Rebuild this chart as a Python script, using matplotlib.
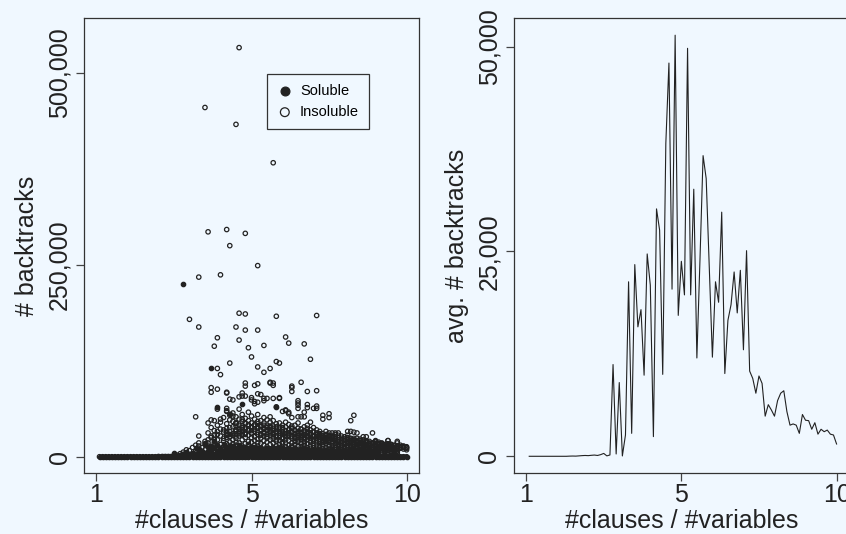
import numpy as np
import matplotlib
matplotlib.use("Agg")
import matplotlib.pyplot as plt
from matplotlib.ticker import FuncFormatter

plt.rcParams['font.family'] = ['Liberation Sans', 'DejaVu Sans']

BG = '#f0f8ff'
INK = '#222222'

# ratio #clauses / #variables, 100 steps of 0.09
ratio_idx = np.arange(1, 101)
ratio = 1 + 0.09 * ratio_idx

# avg backtracks per ratio (thousands)
avg_k = [0, 0, 0, 0, 0, 0, 0, 0, 0, 0,
         0, 0, 0, 0.02, 0.03, 0.02, 0.05, 0.08, 0.1, 0.08,
         0.12, 0.15, 0.1, 0.2, 0.35, 0.05, 0.16, 11.2, 0.28, 9.0,
         0.04, 2.6, 21.3, 2.8, 23.4, 15.8, 17.9, 9.9, 24.7, 20.9,
         2.4, 30.2, 27.6, 10.0, 38.2, 48.0, 20.4, 51.4, 17.2, 23.8,
         19.7, 49.8, 19.7, 32.6, 12.0, 24.0, 36.7, 33.9, 23.0, 12.1,
         21.3, 18.8, 29.8, 10.1, 16.6, 18.5, 22.5, 17.5, 22.7, 13.0,
         25.1, 10.4, 9.5, 7.7, 9.8, 8.9, 4.9, 6.3, 5.65, 4.9,
         6.8, 7.7, 8.0, 5.45, 3.8, 3.95, 3.8, 2.8, 5.1, 4.4,
         4.35, 3.3, 4.1, 2.7, 3.3, 3.0, 3.2, 2.7, 2.6, 1.5]

# scattered runs that stand out (index, thousands of backtracks)
ins_outliers = [
    (46, 533), (35, 455), (45, 433), (57, 383), (36, 293), (42, 296), (48, 291), (43, 275), (52, 249),
    (33, 234), (40, 237), (30, 179), (33, 169), (46, 187), (48, 186), (58, 183), (71, 184), (45, 169),
    (48, 165), (52, 165), (39, 155), (38, 144), (46, 152), (49, 142), (54, 145), (61, 156), (62, 148),
    (67, 147), (69, 127), (50, 130), (43, 122), (52, 117), (54, 110), (56, 115), (58, 124), (59, 122),
    (39, 115), (40, 107), (37, 90), (37, 84), (39, 88), (42, 84), (43, 75), (44, 74), (48, 96), (48, 92),
    (51, 93), (52, 95), (56, 97), (57, 96), (63, 92), (63, 85), (66, 97), (68, 85), (71, 86), (47, 83),
    (46, 78), (53, 81), (55, 76), (57, 76), (59, 76), (39, 62), (42, 63), (42, 60), (44, 53), (32, 52),
    (37, 48), (40, 49), (47, 49), (45, 44), (48, 79), (50, 74), (51, 69), (52, 71), (54, 73), (58, 65),
    (60, 59), (61, 61), (62, 56), (65, 70), (65, 63), (68, 64), (71, 63), (73, 49), (75, 51), (82, 47),
    (83, 54), (89, 31), (94, 21), (97, 18), (87, 26), (90, 21), (76, 31), (77, 31), (78, 31), (81, 33),
    (82, 33), (83, 32), (84, 31), (86, 26), (33, 27), (33, 18), (35, 20), (36, 18), (42, 59), (42, 83),
    (43, 54), (47, 79), (50, 77), (51, 72), (52, 82), (54, 76), (56, 96), (57, 93), (59, 77), (63, 90),
    (61, 60), (62, 58), (63, 51), (42, 33), (42, 28), (45, 43), (45, 35), (45, 30), (47, 38), (47, 33),
    (47, 28), (38, 23), (65, 73), (65, 67), (68, 68), (70, 63), (71, 66), (67, 58), (65, 52), (66, 52),
    (67, 52), (73, 54), (75, 56), (69, 45), (68, 41), (81, 24), (90, 20), (94, 21), (97, 20),
]
sol_outliers = [(28, 225), (37, 115), (47, 69), (39, 65), (43, 56), (43, 30), (58, 65), (38, 20)]

# dense low cloud, insoluble runs, one list per index 26..100 (thousands)
ins_cloud = [
    [2], [4, 1], [3, 6], [5, 2, 9], [8, 3], [4, 12], [7, 15, 3], [10, 5, 14], [6, 12, 3], [9, 4, 17],
    [14, 6, 22, 3], [12, 25, 8, 4], [18, 7, 11, 28], [9, 22, 15, 4, 33], [16, 6, 27, 11, 2],
    [21, 9, 35, 13, 5], [25, 12, 7, 31, 17, 3], [19, 8, 38, 14, 26, 4], [28, 11, 17, 6, 22, 2],
    [33, 15, 24, 9, 40, 5, 19], [27, 12, 36, 7, 18, 30, 3], [22, 41, 14, 8, 29, 35, 4],
    [31, 17, 9, 44, 25, 12, 38, 5], [20, 36, 13, 28, 7, 42, 16], [34, 10, 25, 19, 39, 6, 30, 2],
    [26, 40, 15, 8, 33, 21, 12], [37, 18, 29, 9, 43, 23, 4, 14], [24, 35, 11, 30, 17, 39, 6],
    [32, 21, 8, 27, 41, 15, 36, 3], [19, 38, 13, 29, 7, 24, 34, 10], [28, 16, 35, 22, 9, 31, 5, 40],
    [23, 37, 12, 30, 18, 6, 26], [33, 20, 10, 27, 39, 14, 4, 22], [21, 31, 8, 36, 16, 25, 12],
    [29, 17, 38, 11, 24, 6, 33, 19], [26, 34, 13, 22, 9, 30, 3, 18], [35, 15, 28, 10, 21, 31, 7],
    [24, 12, 32, 18, 27, 5, 14, 37], [30, 20, 9, 26, 16, 34, 11], [22, 33, 14, 28, 7, 19, 25, 4],
    [27, 17, 31, 10, 23, 13, 36], [20, 29, 8, 25, 15, 32, 5, 18], [26, 12, 22, 30, 9, 17, 3],
    [31, 19, 24, 11, 28, 14, 6, 21], [23, 15, 27, 8, 20, 33, 12], [18, 29, 10, 24, 14, 5, 21, 26],
    [25, 13, 20, 30, 9, 17, 4], [22, 16, 27, 11, 19, 7, 24, 14], [28, 12, 21, 17, 8, 25, 3],
    [19, 24, 10, 15, 27, 6, 13, 21], [23, 14, 18, 9, 26, 11, 4], [17, 21, 12, 24, 7, 15, 19],
    [20, 13, 25, 9, 16, 5, 22, 11], [15, 22, 11, 18, 7, 14, 3], [19, 12, 16, 23, 8, 13, 10],
    [14, 20, 9, 17, 6, 12, 22, 4], [18, 11, 15, 8, 21, 13], [13, 19, 10, 16, 6, 24, 9, 3],
    [16, 12, 20, 8, 14, 11, 5], [12, 17, 9, 15, 19, 7, 13], [15, 10, 18, 8, 13, 4, 11],
    [11, 16, 9, 14, 7, 20, 12], [14, 10, 17, 8, 12, 5, 9], [12, 15, 7, 11, 18, 9, 3],
    [10, 14, 8, 13, 6, 16, 11], [13, 9, 12, 7, 15, 10, 4], [11, 14, 8, 10, 6, 13, 17],
    [9, 12, 7, 15, 10, 5, 8], [12, 8, 11, 6, 14, 9, 3], [10, 13, 7, 9, 5, 11, 16],
    [8, 11, 6, 12, 9, 4, 7], [11, 7, 10, 5, 13, 8],
]
# upper part of the cloud, insoluble runs, one list per index 36..100 (thousands)
ins_cloud_hi = [
    [31, 44], [38, 27], [34, 47], [29, 41], [45, 36], [32, 51, 24], [43, 29, 37], [48, 33, 26],
    [39, 57, 30, 46], [52, 35, 44, 27], [41, 62, 33, 49], [46, 31, 55, 38], [36, 50, 43, 29],
    [58, 34, 47, 40], [44, 38, 53, 31], [49, 27, 42, 36], [39, 55, 32, 46], [47, 35, 41, 28],
    [51, 30, 44, 37], [35, 48, 40, 26], [45, 33, 38, 52], [40, 29, 47, 34], [36, 43, 31, 27],
    [44, 38, 28, 33], [32, 41, 36, 25], [39, 30, 45, 27], [35, 28, 42, 31], [33, 40, 26, 37],
    [41, 29, 34, 24], [30, 37, 27, 44], [36, 25, 32, 28], [28, 34, 39, 23], [33, 26, 30, 37],
    [29, 35, 24, 31], [27, 32, 38, 22], [31, 24, 28, 35], [26, 33, 22, 29], [30, 25, 27, 21],
    [24, 29, 33, 20], [28, 22, 26, 31], [23, 27, 20, 25], [26, 21, 29, 23], [22, 25, 19, 28],
    [24, 20, 27, 18], [21, 26, 23, 17], [25, 19, 22, 28], [20, 23, 18, 24], [22, 17, 21, 19],
    [19, 24, 16, 21], [21, 18, 23, 15], [17, 20, 16, 22], [19, 15, 18, 21], [16, 20, 14, 18],
    [18, 15, 17, 13], [15, 19, 14, 17], [17, 13, 16, 19], [14, 18, 12, 16], [16, 13, 15, 12],
    [13, 17, 14, 11], [15, 12, 14, 16], [12, 14, 11, 15], [14, 11, 13, 10], [11, 13, 12, 15],
    [13, 10, 12, 14], [12, 9, 11, 13],
]
# soluble runs in the low cloud, one list per index 20..100 (thousands)
sol_cloud = [
    [0.5], [0.3], [1], [0.6], [1.5], [5.5], [0.8], [2], [1.5, 4], [6.5, 2],
    [3, 1], [5, 2], [12, 4, 1], [10, 3], [7, 2], [16, 5, 1], [13, 6, 2], [9, 3, 14],
    [4, 11, 2], [15, 7, 3], [6, 12, 2, 9], [8, 3, 17, 5], [11, 4, 7, 2], [13, 6, 3, 9],
    [5, 10, 2, 14, 7], [12, 4, 8, 1, 6], [9, 15, 3, 6, 11], [7, 2, 13, 5, 10], [11, 6, 3, 8, 1],
    [4, 9, 12, 2, 7], [10, 5, 8, 3, 13], [6, 11, 2, 9, 4], [12, 7, 3, 10, 5], [8, 2, 6, 11, 4],
    [5, 10, 3, 7, 1], [9, 4, 12, 6, 2], [7, 3, 10, 5, 8], [11, 6, 2, 9, 4], [4, 8, 12, 3, 6],
    [9, 5, 2, 10, 7], [6, 11, 3, 8, 4], [10, 4, 7, 2, 9], [5, 8, 3, 11, 6], [8, 2, 10, 4, 7],
    [6, 9, 3, 5, 12], [9, 4, 7, 2, 6], [5, 10, 3, 8, 4], [7, 2, 9, 5, 11], [4, 8, 6, 3, 10],
    [9, 5, 2, 7, 4], [6, 10, 3, 8, 5], [8, 4, 7, 2, 9], [5, 9, 3, 6, 4], [7, 3, 8, 5, 2],
    [4, 9, 6, 3, 7], [8, 5, 2, 6, 4], [6, 3, 9, 4, 7], [5, 8, 2, 6, 3], [7, 4, 9, 3, 5],
    [4, 6, 2, 8, 5], [6, 3, 7, 4, 9], [5, 8, 3, 6, 2], [7, 4, 5, 2, 8], [3, 6, 9, 4, 5],
    [6, 2, 7, 4, 3], [5, 8, 3, 6, 4], [4, 7, 2, 5, 3], [6, 3, 8, 4, 2], [5, 2, 6, 3, 7],
    [4, 6, 3, 5, 2], [3, 7, 4, 6, 5],
]

ins_i = [i for i, _ in ins_outliers]
ins_v = [v for _, v in ins_outliers]
for start, cloud in ((26, ins_cloud), (36, ins_cloud_hi)):
    for k, col in enumerate(cloud):
        ins_i += [start + k] * len(col)
        ins_v += col
sol_i = [i for i, _ in sol_outliers]
sol_v = [v for _, v in sol_outliers]
for k, col in enumerate(sol_cloud):
    sol_i += [20 + k] * len(col)
    sol_v += col
# every ratio has runs that needed no backtracking
sol_i += list(ratio_idx)
sol_v += [0] * len(ratio_idx)
ins_i += list(ratio_idx)
ins_v += [0] * len(ratio_idx)

ins_x = 1 + 0.09 * np.array(ins_i)
sol_x = 1 + 0.09 * np.array(sol_i)

fig = plt.figure(figsize=(8.46, 5.34), dpi=100, facecolor=BG)
W, H = 846, 534
ax1 = fig.add_axes([84 / W, (H - 473) / H, 335 / W, 455 / H])
ax2 = fig.add_axes([513.7 / W, (H - 473) / H, 335.3 / W, 455 / H])

comma = FuncFormatter(lambda v, p: f"{int(round(v)):,}")

for ax in (ax1, ax2):
    ax.set_facecolor(BG)
    for s in ax.spines.values():
        s.set_color('#333333')
        s.set_linewidth(0.9)
    ax.set_xlim(0.64, 10.36)
    ax.set_xticks([1, 5.5, 10])
    ax.set_xticklabels(['1', '5', '10'])
    ax.tick_params(length=6, width=0.9, color='#444444', labelsize=18, labelcolor=INK, pad=1)
    ax.tick_params(axis='y', pad=3)
    ax.yaxis.set_major_formatter(comma)
    ax.set_xlabel('#clauses / #variables', fontsize=18, color=INK)
    ax.xaxis.set_label_coords(0.5, -0.079)

ax1.scatter(ins_x, np.array(ins_v) * 1000, s=10, facecolors='none', edgecolors=INK,
            linewidths=0.9, label='Insoluble', zorder=2)
ax1.scatter(sol_x, np.array(sol_v) * 1000, s=10, facecolors=INK, edgecolors=INK,
            linewidths=0.9, label='Soluble', zorder=3)
ax1.set_ylim(-21200, 571600)
ax1.set_yticks([0, 250000, 500000])
ax1.set_ylabel('# backtracks', fontsize=18, color=INK)
ax1.yaxis.set_label_coords(-0.133, 0.5)
h, l = ax1.get_legend_handles_labels()
leg = ax1.legend([h[1], h[0]], [l[1], l[0]], loc='upper left', bbox_to_anchor=(0.545, 0.878),
                 borderaxespad=0, fancybox=False, framealpha=1, facecolor=BG, edgecolor='#333333',
                 fontsize=10.5, markerscale=2.0, handletextpad=0.5, borderpad=0.7, labelspacing=0.5,
                 handlelength=1.1)
leg.get_frame().set_linewidth(0.9)

ax2.plot(ratio, np.array(avg_k) * 1000, color=INK, lw=0.8)
ax2.set_ylim(-2040, 53500)
ax2.set_yticks([0, 25000, 50000])
ax2.set_ylabel('avg. # backtracks', fontsize=18, color=INK)
ax2.yaxis.set_label_coords(-0.133, 0.5)

for ax in (ax1, ax2):
    plt.setp(ax.get_yticklabels(), rotation=90, va='center')

fig.savefig('out.png', dpi=100, facecolor=BG)
